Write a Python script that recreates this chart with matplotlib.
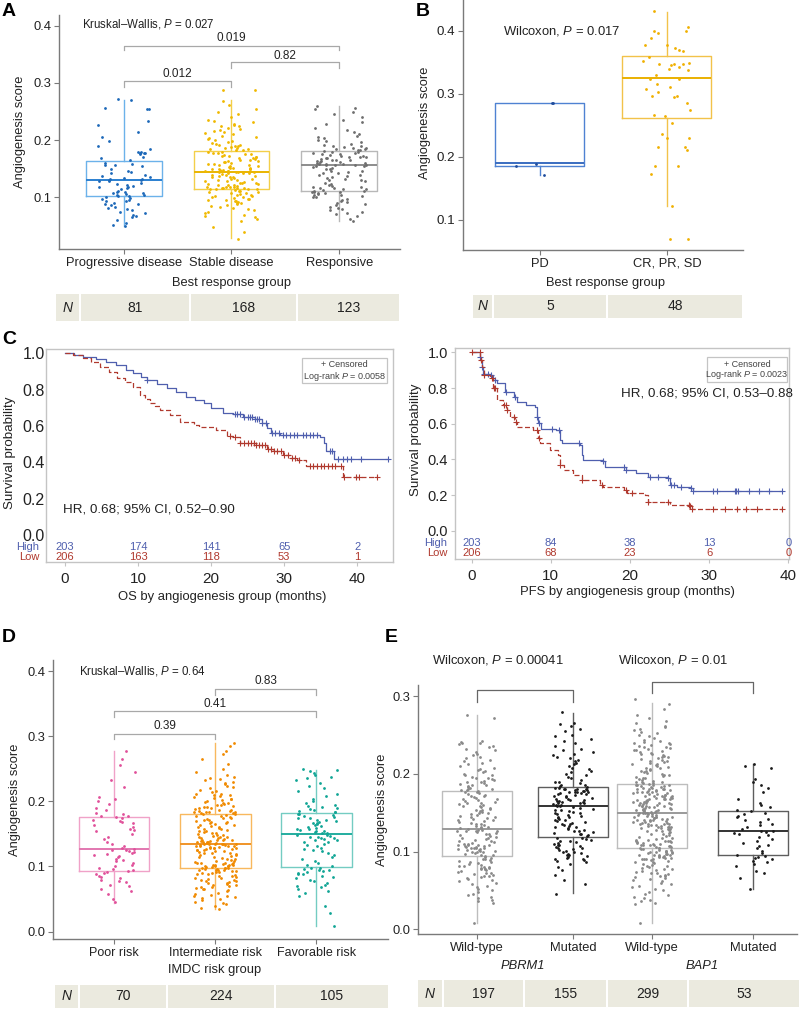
import numpy as np
import matplotlib
matplotlib.use('Agg')
import matplotlib.pyplot as plt
from matplotlib.patches import Rectangle

plt.rcParams['font.family'] = ['Liberation Sans', 'DejaVu Sans']
plt.rcParams['mathtext.fontset'] = 'custom'
plt.rcParams['mathtext.rm'] = 'Liberation Sans'
plt.rcParams['mathtext.it'] = 'Liberation Sans:italic'

# ====================== DATA ======================
# Panel A
a_groups = ['Progressive disease', 'Stable disease', 'Responsive']
a_n = ['81', '168', '123']
a_q1 = [0.103, 0.1145, 0.112]
a_med = [0.130, 0.145, 0.156]
a_q3 = [0.1634, 0.181, 0.181]
a_lo = [0.0494, 0.0285, 0.059]
a_hi = [0.270, 0.270, 0.260]
a_pd = [272, 271, 256, 255, 254, 234, 227, 215, 206, 198, 190, 185, 180, 179, 178, 178, 177, 176, 171, 168,
        166, 160, 158, 157, 156, 154, 150, 147, 145, 142, 140, 138, 135, 134, 133, 132, 131, 130, 129, 128,
        126, 124, 122, 120, 119, 118, 116, 114, 112, 110, 109, 108, 107, 106, 105, 104, 103, 102, 101, 99,
        97, 95, 94, 93, 91, 89, 88, 86, 83, 82, 80, 78, 75, 72, 70, 68, 65, 60, 55, 52, 50]
a_sd = [288, 287, 268, 262, 255, 250, 245, 240, 236, 233, 231, 229, 226, 225, 224, 222, 220, 218, 216, 214,
        212, 210, 208, 206, 204, 202, 200, 198, 197, 195, 194, 192, 191, 190, 189, 188, 187, 186, 185, 184,
        183, 182, 180, 179, 178, 177, 176, 175, 174, 173, 172, 171, 170, 169, 168, 167, 166, 165, 164, 163,
        162, 161, 160, 159, 158, 157, 156, 155, 154, 153, 152, 152, 151, 150, 150, 149, 149, 148, 148, 147,
        147, 146, 146, 145, 145, 144, 144, 143, 142, 142, 141, 140, 139, 138, 137, 136, 135, 135, 134, 133,
        132, 131, 130, 129, 128, 127, 126, 125, 125, 124, 123, 122, 121, 121, 120, 119, 119, 118, 118, 117,
        117, 116, 116, 115, 115, 115, 114, 113, 112, 111, 110, 109, 108, 107, 106, 105, 104, 103, 102, 101,
        100, 99, 98, 97, 96, 95, 94, 93, 92, 91, 90, 88, 87, 85, 83, 81, 80, 78, 75, 73,
        70, 68, 65, 62, 58, 48, 40, 28]
a_resp = [260, 257, 255, 250, 245, 240, 236, 232, 228, 222, 218, 214, 210, 208, 205, 203, 200, 198, 196, 194,
          192, 190, 189, 188, 187, 186, 185, 184, 183, 182, 181, 180, 179, 178, 177, 176, 175, 174, 173, 172,
          171, 170, 170, 169, 168, 167, 166, 165, 165, 164, 163, 162, 161, 160, 160, 159, 158, 158, 157, 157,
          156, 156, 155, 154, 153, 152, 150, 149, 147, 146, 145, 143, 142, 140, 139, 137, 135, 134, 133, 131,
          130, 128, 126, 124, 122, 120, 119, 118, 117, 116, 115, 114, 113, 112, 111, 110, 110, 109, 108, 107,
          106, 105, 104, 103, 101, 100, 98, 96, 94, 92, 90, 88, 86, 84, 82, 80, 78, 75, 73, 71,
          68, 63, 59]

# Panel B
b_groups = ['PD', 'CR, PR, SD']
b_n = ['5', '48']
b_q1 = [0.185, 0.262]
b_med = [0.190, 0.3254]
b_q3 = [0.285, 0.360]
b_lo = [0.171, 0.121]
b_hi = [0.285, 0.430]
b_pd = [0.171, 0.286, 0.286, 0.189, 0.185]
b_cr = [0.431, 0.397, 0.400, 0.400, 0.406, 0.388, 0.377, 0.377, 0.369, 0.372, 0.367, 0.359, 0.352, 0.348,
        0.347, 0.345, 0.347, 0.347, 0.342, 0.337, 0.339, 0.330, 0.324, 0.324, 0.316, 0.310, 0.307, 0.303,
        0.297, 0.296, 0.294, 0.286, 0.274, 0.264, 0.266, 0.253, 0.236, 0.230, 0.230, 0.215, 0.216, 0.211,
        0.185, 0.186, 0.173, 0.121, 0.070, 0.070]

# Panel C - OS
os_high_t = [0, 1.2, 2.5, 4.3, 5.6, 7.0, 8.4, 9.3, 10.4, 11.2, 12.6, 13.9, 15.2, 16.6, 17.8, 19.0, 20.0,
             21.6, 23.0, 24.3, 26.0, 26.9, 27.6, 28.2, 29.4, 34.9, 35.4, 35.7, 36.8]
os_high_s = [1.0, 0.99, 0.98, 0.97, 0.955, 0.935, 0.91, 0.89, 0.87, 0.853, 0.83, 0.807, 0.785, 0.761,
             0.745, 0.728, 0.697, 0.67, 0.664, 0.648, 0.637, 0.615, 0.587, 0.56, 0.55, 0.541, 0.505,
             0.464, 0.418]
os_high_end = 44.2
os_high_cens = [11.2, 23.2, 23.6, 24.0, 24.5, 25.0, 25.3, 25.6, 26.0, 26.3, 26.6, 27.0, 27.5, 28.3, 28.8,
                29.3, 29.8, 30.3, 30.8, 31.3, 31.8, 32.5, 33.0, 33.5, 34.0, 34.5, 36.2, 36.6, 37.3, 38.0,
                38.6, 39.2, 40.5, 44.2]
os_low_t = [0, 1.1, 2.5, 3.6, 4.8, 6.0, 7.1, 8.2, 9.3, 10.3, 11.0, 11.6, 12.3, 13.0, 14.4, 15.7, 17.6,
            18.4, 20.7, 22.1, 23.0, 23.9, 26.2, 27.6, 28.5, 29.8, 30.8, 31.7, 33.0, 38.0]
os_low_s = [1.0, 0.99, 0.972, 0.95, 0.927, 0.895, 0.862, 0.84, 0.817, 0.771, 0.75, 0.728, 0.71, 0.688,
            0.661, 0.624, 0.606, 0.596, 0.578, 0.545, 0.541, 0.508, 0.495, 0.472, 0.46, 0.44, 0.425,
            0.413, 0.38, 0.321]
os_low_end = 42.7
os_low_cens = [22.6, 23.3, 24.0, 24.5, 25.0, 25.4, 25.8, 26.2, 26.6, 27.0, 27.4, 27.8, 28.2, 28.6, 29.0,
               29.5, 30.0, 30.5, 31.0, 31.5, 32.0, 33.5, 34.0, 34.5, 35.0, 35.5, 36.0, 36.5, 37.0, 37.8,
               38.2, 39.8, 40.2, 42.7]
os_risk_t = [0, 10, 20, 30, 40]
os_risk_high = ['203', '174', '141', '65', '2']
os_risk_low = ['206', '163', '118', '53', '1']

# Panel C - PFS
pfs_high_t = [0, 1.05, 1.15, 1.3, 1.45, 2.3, 2.7, 3.2, 4.2, 5.3, 5.7, 6.9, 8.0, 8.2, 8.4, 8.8, 10.7, 11.2,
              11.4, 13.7, 13.9, 14.1, 16.6, 16.8, 19.5, 20.8, 22.3, 24.8, 25.1, 25.9, 27.6, 27.9]
pfs_high_s = [1.0, 0.976, 0.95, 0.92, 0.88, 0.873, 0.845, 0.826, 0.78, 0.75, 0.724, 0.705, 0.692, 0.64,
              0.603, 0.569, 0.565, 0.509, 0.49, 0.481, 0.425, 0.397, 0.394, 0.36, 0.341, 0.325, 0.304,
              0.295, 0.257, 0.248, 0.239, 0.226]
pfs_high_end = 39.2
pfs_high_cens = [1.1, 1.3, 1.6, 2.0, 2.5, 3.0, 4.3, 5.5, 8.2, 8.5, 10.2, 11.0, 13.5, 16.6, 19.2, 19.5,
                 22.5, 23.5, 24.8, 25.2, 25.6, 26.4, 27.7, 28.0, 30.5, 31.0, 33.2, 33.4, 33.6, 35.0,
                 36.3, 37.5, 39.2]
pfs_low_t = [0, 1.05, 1.3, 1.5, 2.3, 2.7, 3.2, 4.0, 4.4, 4.8, 5.5, 5.7, 7.8, 8.4, 8.6, 9.9, 10.9, 11.2,
             11.6, 12.8, 13.9, 16.2, 16.6, 19.2, 19.6, 21.9, 22.3, 25.1, 27.6, 27.8]
pfs_low_s = [1.0, 0.957, 0.92, 0.873, 0.854, 0.799, 0.733, 0.705, 0.677, 0.636, 0.612, 0.584, 0.565,
             0.519, 0.49, 0.453, 0.425, 0.369, 0.341, 0.313, 0.285, 0.257, 0.248, 0.229, 0.211, 0.201,
             0.164, 0.146, 0.142, 0.123]
pfs_low_end = 39.2
pfs_low_cens = [0.0, 1.0, 1.2, 1.5, 2.6, 2.8, 3.0, 4.1, 4.3, 4.5, 5.3, 5.6, 8.2, 8.5, 11.2, 13.9, 16.4,
                19.5, 20.2, 22.3, 24.8, 27.4, 27.6, 27.8, 30.5, 32.0, 33.5, 34.6, 36.0, 39.2]
pfs_risk_t = [0, 10, 20, 30, 40]
pfs_risk_high = ['203', '84', '38', '13', '0']
pfs_risk_low = ['206', '68', '23', '6', '0']

# Panel D
d_groups = ['Poor risk', 'Intermediate risk', 'Favorable risk']
d_n = ['70', '224', '105']
d_q1 = [0.0936, 0.0982, 0.0987]
d_med = [0.1263, 0.1345, 0.1499]
d_q3 = [0.1754, 0.1806, 0.1816]
d_lo = [0.0445, 0.0353, 0.0087]
d_hi = [0.278, 0.289, 0.248]
d_poor = [278, 265, 255, 245, 232, 222, 207, 204, 200, 196, 190, 186, 182, 180, 178, 177, 176,
          174, 172, 170, 168, 166, 163, 160, 158, 156, 154, 150, 146, 142, 138, 135, 132, 129, 127,
          126, 125, 124, 122, 120, 119, 118, 116, 114, 112, 110, 108, 105, 102, 100, 98, 96, 94,
          93, 92, 90, 88, 86, 84, 82, 80, 78, 76, 72, 70, 66, 62, 58, 50, 45]
d_inter = [289, 285, 277, 272, 265, 258, 250, 245, 240, 238, 236, 234, 232, 230, 228, 226, 224, 222, 220, 218,
           216, 214, 212, 211, 210, 209, 208, 206, 205, 204, 203, 202, 200, 199, 198, 197, 196, 195, 194, 193,
           192, 191, 190, 189, 188, 187, 186, 185, 185, 184, 184, 183, 183, 182, 182, 181,
           180, 179, 178, 177, 176, 175, 174, 173, 172, 171, 170, 169, 168, 167, 166, 165, 164, 163, 162, 161,
           160, 159, 158, 157, 156, 155, 154, 153, 152, 151, 150, 149, 148, 147, 146, 145, 145, 144, 143, 142,
           141, 141, 140, 140, 139, 139, 138, 138, 137, 137, 136, 136, 135, 135, 135, 135,
           134, 134, 133, 133, 132, 132, 131, 131, 130, 130, 129, 129, 128, 128, 127, 127, 126, 126, 125, 124,
           123, 122, 121, 120, 120, 119, 118, 117, 116, 115, 114, 113, 112, 111, 110, 109, 108, 107, 106, 106,
           105, 105, 104, 104, 103, 103, 102, 102, 101, 101, 100, 100, 99, 99, 98, 98,
           97, 97, 96, 96, 95, 95, 94, 94, 93, 93, 92, 91, 90, 90, 89, 88, 87, 86, 85, 84,
           83, 82, 81, 80, 79, 78, 77, 76, 75, 74, 73, 72, 71, 70, 69, 68, 67, 66, 65, 64,
           62, 60, 58, 56, 55, 54, 53, 52, 50, 48, 46, 44, 42, 40, 37, 35]
d_fav = [250, 248, 246, 244, 240, 238, 236, 232, 228, 224, 220, 216, 212, 208, 204, 200, 197, 195, 193, 191,
         189, 188, 186, 185, 184, 183, 181, 180, 179, 178, 176, 175, 174, 172, 171, 170, 168, 167, 166, 165,
         163, 162, 160, 159, 158, 157, 156, 155, 154, 153, 152, 151, 149, 148, 147, 146, 145, 144, 143, 142,
         141, 140, 138, 137, 135, 133, 131, 129, 127, 125, 123, 121, 118, 115, 112, 109, 106, 103, 100,
         98, 97, 96, 95, 94, 93, 92, 90, 89, 88, 86, 84, 82, 80, 78, 75, 72, 70, 68, 65, 62, 60, 55, 40,
         28, 8]

# Panel E
e_ticklabels = ['Wild-type', 'Mutated', 'Wild-type', 'Mutated']
e_genes = ['PBRM1', 'BAP1']
e_n = ['197', '155', '299', '53']
e_q1 = [0.0943, 0.1187, 0.105, 0.096]
e_med = [0.1294, 0.1586, 0.149, 0.126]
e_q3 = [0.178, 0.183, 0.1865, 0.1526]
e_lo = [0.0086, 0.0463, 0.0077, 0.0523]
e_hi = [0.2756, 0.278, 0.2915, 0.2126]
e_wt1 = [276, 272, 242, 241, 240, 239, 238, 236, 234, 232, 230, 228, 226, 224, 222, 220, 218, 216, 214, 212,
         210, 208, 206, 205, 204, 202, 200, 199, 198, 196, 195, 194, 193, 192, 191, 190, 189, 188, 187, 186,
         185, 184, 183, 182, 181, 180, 179, 179, 178,
         177, 176, 175, 174, 173, 172, 171, 170, 169, 168, 167, 166, 165, 164, 163, 162, 161, 160, 159, 158,
         157, 156, 155, 154, 153, 152, 151, 150, 149, 148, 147, 146, 145, 144, 143, 142, 141, 140, 139, 138,
         137, 136, 135, 134, 133, 132, 131, 130, 130,
         129, 128, 128, 127, 127, 126, 126, 125, 124, 123, 122, 121, 120, 119, 118, 117, 116, 115, 114, 113,
         112, 111, 110, 110, 109, 109, 108, 108, 107, 107, 106, 106, 105, 105, 104, 104, 103, 103, 102, 102,
         101, 101, 100, 100, 99, 98, 97, 96, 95,
         94, 93, 92, 91, 90, 89, 88, 87, 86, 85, 84, 83, 82, 81, 80, 80, 79, 79, 78, 78,
         77, 76, 75, 74, 73, 72, 71, 70, 69, 68, 67, 66, 65, 64, 62, 60, 58, 56, 54, 52,
         50, 48, 46, 44, 42, 40, 38, 36, 34, 8]
e_mut1 = [279, 265, 264, 262, 258, 255, 250, 248, 245, 242, 240, 236, 232, 230, 228, 226, 224, 222, 220, 218,
          216, 214, 212, 210, 208, 206, 204, 202, 200, 198, 196, 194, 192, 190, 189, 188, 186, 185, 184,
          183, 182, 182, 181, 181, 180, 180, 179, 179, 178, 178, 177, 177, 176, 176, 175, 175, 174, 174, 173,
          172, 171, 170, 169, 168, 167, 166, 166, 165, 165, 164, 164, 163, 162, 162, 161, 160, 160, 159,
          158, 157, 156, 155, 154, 153, 152, 151, 150, 149, 148, 147, 146, 145, 144, 143, 142, 141, 140, 139,
          138, 137, 136, 135, 134, 133, 132, 131, 130, 129, 128, 127, 126, 125, 124, 123, 122, 121, 120,
          118, 117, 116, 115, 114, 113, 112, 111, 110, 109, 108, 107, 106, 105, 104, 103, 102, 101, 100, 99,
          98, 97, 96, 95, 94, 93, 92, 91, 90, 89, 88, 86, 84, 80, 76, 70, 63, 58, 46]
e_wt2 = [296, 290, 283, 275, 272, 268, 265, 262, 260, 258, 256, 254, 252, 250, 248, 246, 244, 242, 241, 240,
         239, 238, 237, 236, 235, 234, 233, 232, 231, 230, 229, 228, 227, 226, 225, 224, 223, 222, 221, 220,
         219, 218, 217, 216, 215, 214, 213, 212, 211, 210, 209, 208, 207, 206, 205, 204, 203, 202, 201, 200,
         199, 198, 197, 196, 195, 194, 193, 192, 191, 190, 189, 189, 188, 188, 187,
         186, 186, 185, 185, 184, 184, 183, 183, 182, 182, 181, 181, 180, 180, 179, 179, 178, 178, 177, 177,
         176, 176, 175, 175, 174, 174, 173, 173, 172, 172, 171, 171, 170, 170, 169, 169, 168, 168, 167, 167,
         166, 166, 165, 165, 164, 164, 163, 163, 162, 162, 161, 161, 160, 160, 159, 159, 158, 158, 157, 157,
         156, 156, 155, 155, 154, 154, 153, 153, 152, 152, 151, 151, 150, 150, 149,
         149, 148, 148, 147, 147, 146, 146, 145, 145, 144, 144, 143, 143, 142, 142, 141, 141, 140, 140, 139,
         139, 138, 138, 137, 137, 136, 136, 135, 135, 134, 134, 133, 133, 132, 132, 131, 131, 130, 130, 129,
         129, 128, 128, 127, 126, 125, 124, 123, 122, 121, 120, 119, 118, 117, 116, 115, 115, 114, 114, 113,
         113, 112, 112, 111, 111, 110, 110, 109, 109, 108, 108, 107, 107, 106, 106,
         105, 104, 104, 103, 103, 102, 102, 101, 101, 100, 100, 99, 99, 98, 98, 97, 97, 96, 96, 95,
         95, 94, 94, 93, 93, 92, 92, 91, 91, 90, 90, 89, 88, 87, 86, 85, 84, 83, 82, 81,
         80, 79, 78, 77, 76, 75, 74, 73, 72, 71, 70, 69, 68, 67, 66, 65, 64, 62, 60, 58,
         56, 54, 52, 50, 48, 46, 44, 42, 40, 38, 36, 34, 32, 8]
e_mut2 = [213, 210, 207, 193, 190, 185, 182, 176, 167, 162, 160, 157, 154,
          152, 150, 148, 146, 144, 142, 140, 138, 136, 134, 131, 129, 127,
          126, 125, 124, 123, 121, 119, 116, 114, 111, 109, 107, 104, 101, 98,
          95, 94, 93, 92, 90, 88, 86, 84, 82, 75, 72, 66, 52]

# ====================== LAYOUT / HELPERS ======================
W, H = 800, 1009
fig = plt.figure(figsize=(W / 100, H / 100), dpi=100)
TXT = '#222222'
SPINE = '#7a7a7a'
BEIGE = '#ebeadf'


def axpx(l, t, r, b):
    return fig.add_axes([l / W, 1 - b / H, (r - l) / W, (b - t) / H])


def ftxt(x, y, s, **kw):
    kw.setdefault('color', TXT)
    fig.text(x / W, 1 - y / H, s, **kw)


def jitter(n, w, phase=0.0):
    # deterministic scrambled horizontal offsets (positions only)
    i = np.arange(n) + 1.0
    h = np.sin(i * 12.9898 + phase * 78.233) * 43758.5453
    return ((h % 1.0) - 0.5) * 2 * w


def style_box_axes(ax, xlim, ylim, yticks, xpos, xlabels, xfs=9.3, yfs=9.3):
    ax.set_xlim(xlim)
    ax.set_ylim(ylim)
    for sp in ['top', 'right']:
        ax.spines[sp].set_visible(False)
    for sp in ['left', 'bottom']:
        ax.spines[sp].set_color(SPINE)
        ax.spines[sp].set_linewidth(1.0)
    ax.set_yticks(yticks)
    ax.set_yticklabels(['%.1f' % v for v in yticks], fontsize=yfs)
    ax.set_xticks(xpos)
    ax.set_xticklabels(xlabels, fontsize=xfs)
    ax.tick_params(length=3.5, width=0.8, color=SPINE, labelcolor=TXT, pad=2)
    ax.patch.set_alpha(0)


def draw_group(ax, pos, q1, med, q3, lo, hi, vals, boxc, medc, ptc, jw, width=0.7, phase=0.0):
    st = [dict(q1=q1, med=med, q3=q3, whislo=lo, whishi=hi, fliers=[])]
    ax.bxp(st, positions=[pos], widths=width, showfliers=False, showcaps=False,
           boxprops=dict(color=boxc, lw=1.0), whiskerprops=dict(color=boxc, lw=1.0),
           medianprops=dict(color=medc, lw=1.4), manage_ticks=False)
    v = np.asarray(vals, dtype=float)
    ax.scatter(pos + jitter(len(v), jw, phase), v, s=4, color=ptc, lw=0, zorder=3)


def bracket(ax, x1, x2, y, ydrop, color='#a8a8a8', lw=0.9):
    ax.plot([x1, x1, x2, x2], [ydrop, y, y, ydrop], color=color, lw=lw, clip_on=False)


def table(y0, y1, cells, labels, fs=10):
    for (x0, x1), lab in zip(cells, labels):
        fig.add_artist(Rectangle(((x0 + 1) / W, 1 - y1 / H), (x1 - x0 - 2) / W, (y1 - y0) / H,
                                 transform=fig.transFigure, fc=BEIGE, ec='none'))
        style = 'italic' if lab == 'N' else 'normal'
        ftxt((x0 + x1) / 2, (y0 + y1) / 2, lab, ha='center', va='center', fontsize=fs, style=style)


# ====================== PANEL A ======================
axA = axpx(59, 15, 400, 249)
style_box_axes(axA, (0.398, 3.565), (0.0099, 0.4186), [0.1, 0.2, 0.3, 0.4], [1, 2, 3], a_groups)
a_cols = [('#6cb2ea', '#2a7fd0', '#1c68b8'), ('#f3cf4a', '#e9b400', '#f0b800'), ('#b8b8b8', '#8c8c8c', '#6e6e6e')]
for i, vals in enumerate([a_pd, a_sd, a_resp]):
    bc, mc, pc = a_cols[i]
    draw_group(axA, i + 1, a_q1[i], a_med[i], a_q3[i], a_lo[i], a_hi[i], np.array(vals) / 1000.0,
               bc, mc, pc, 0.25, phase=0.13 * (i + 1))
bracket(axA, 1, 2, 0.304, 0.292)
bracket(axA, 2, 3, 0.336, 0.326)
bracket(axA, 1, 3, 0.365, 0.357)
axA.text(1.5, 0.316, '0.012', ha='center', va='center', fontsize=8.5, color=TXT)
axA.text(2.5, 0.347, '0.82', ha='center', va='center', fontsize=8.5, color=TXT)
axA.text(2.0, 0.378, '0.019', ha='center', va='center', fontsize=8.5, color=TXT)
ftxt(82, 24, r'Kruskal–Wallis, $\it{P}$ = 0.027', ha='left', va='center', fontsize=8.3)
ftxt(232, 283, 'Best response group', ha='center', va='center', fontsize=9.3)
ftxt(20, 132, 'Angiogenesis score', ha='center', va='center', rotation=90, fontsize=9.3)
table(294, 321, [(55, 80), (80, 190), (190, 297), (297, 400)], ['N'] + a_n)
ftxt(9, 11, 'A', ha='center', va='center', fontsize=14, weight='bold', color='black')

# ====================== PANEL B ======================
axB = axpx(463, 0, 743, 250)
style_box_axes(axB, (0.394, 2.6), (0.0519, 0.4487), [0.1, 0.2, 0.3, 0.4], [1, 2], b_groups, yfs=9.6)
draw_group(axB, 1, b_q1[0], b_med[0], b_q3[0], b_lo[0], b_hi[0], b_pd, '#4f82d2', '#3a6cc0', '#1f4c9c', 0.19, phase=0.7)
draw_group(axB, 2, b_q1[1], b_med[1], b_q3[1], b_lo[1], b_hi[1], b_cr, '#f2c24a', '#eab000', '#f0b000', 0.19, phase=0.3)
ftxt(503, 31, r'Wilcoxon, $\it{P}$ = 0.017', ha='left', va='center', fontsize=9.4)
ftxt(605, 283, 'Best response group', ha='center', va='center', fontsize=9.3)
ftxt(425, 123, 'Angiogenesis score', ha='center', va='center', rotation=90, fontsize=9.3)
table(295, 318, [(472, 493), (493, 607), (607, 743)], ['N'] + b_n)
ftxt(423, 12, 'B', ha='center', va='center', fontsize=14, weight='bold', color='black')

# ====================== PANEL C ======================
BLUE = '#4f5fae'
RED = '#b0392e'


def km_axes(ax, xlim, ylim, yfs, ypad, ylen):
    ax.set_xlim(xlim)
    ax.set_ylim(ylim)
    for sp in ax.spines.values():
        sp.set_color('#c4c4c4')
        sp.set_linewidth(1.0)
    ax.set_xticks([0, 10, 20, 30, 40])
    ax.set_yticks([0, 0.2, 0.4, 0.6, 0.8, 1.0])
    ax.set_yticklabels(['0.0', '0.2', '0.4', '0.6', '0.8', '1.0'])
    ax.tick_params(axis='x', length=3, color='#c4c4c4', labelsize=11, labelcolor=TXT, pad=4)
    ax.tick_params(axis='y', length=ylen, color='#c4c4c4', labelsize=yfs, labelcolor=TXT, pad=ypad)


def km_curve(ax, t, s, tend, cens, color, ls):
    tt = list(t) + [tend]
    ss = list(s) + [s[-1]]
    line, = ax.plot(tt, ss, drawstyle='steps-post', color=color, lw=0.9)
    if ls == 'dashed':
        line.set_dashes([4, 2])
    idx = np.searchsorted(np.asarray(t), np.asarray(cens), side='right') - 1
    ax.plot(cens, np.asarray(s)[idx], ls='none', marker='+', ms=4.5, mew=0.8, color=color)


def risk_rows(ax, rt, hi, lo, yh, yl, xlab):
    for x, a, b in zip(rt, hi, lo):
        ax.text(x, yh, a, ha='center', va='center', fontsize=8, color=BLUE)
        ax.text(x, yl, b, ha='center', va='center', fontsize=8, color=RED)
    ax.text(xlab, yh, 'High', ha='right', va='center', fontsize=8, color=BLUE, clip_on=False)
    ax.text(xlab, yl, 'Low', ha='right', va='center', fontsize=8, color=RED, clip_on=False)


def km_legend(ax, x0, x1, y0, y1, ptxt):
    ax.add_patch(Rectangle((x0, y0), x1 - x0, y1 - y0, transform=ax.transAxes, fc='white',
                           ec='#c4c4c4', lw=0.9, zorder=4))
    xm = (x0 + x1) / 2
    ax.text(xm, y0 + (y1 - y0) * 0.72, '+ Censored', transform=ax.transAxes, ha='center', va='center',
            fontsize=6.5, color='#444444', zorder=5)
    ax.text(xm, y0 + (y1 - y0) * 0.28, r'Log-rank $\it{P}$ = ' + ptxt, transform=ax.transAxes, ha='center',
            va='center', fontsize=6.5, color='#444444', zorder=5)


axC1 = axpx(46, 349, 393, 562)
km_axes(axC1, (-2.6, 44.88), (-0.149, 1.024), 11.5, 1, 0)
km_curve(axC1, os_high_t, os_high_s, os_high_end, os_high_cens, BLUE, 'solid')
km_curve(axC1, os_low_t, os_low_s, os_low_end, os_low_cens, RED, 'dashed')
risk_rows(axC1, os_risk_t, os_risk_high, os_risk_low, -0.068, -0.119, -3.5)
km_legend(axC1, 0.738, 0.983, 0.84, 0.958, '0.0058')
axC1.text(-0.3, 0.138, 'HR, 0.68; 95% CI, 0.52–0.90', ha='left', va='center', fontsize=9.6, color=TXT)
ftxt(222, 597, 'OS by angiogenesis group (months)', ha='center', va='center', fontsize=9.4)
ftxt(10, 453, 'Survival probability', ha='center', va='center', rotation=90, fontsize=9.6)
ftxt(9, 340, 'C', ha='center', va='center', fontsize=14, weight='bold', color='black')

axC2 = axpx(455, 348, 789, 559)
km_axes(axC2, (-2.11, 40.08), (-0.157, 1.024), 10.5, 2, 3)
km_curve(axC2, pfs_high_t, pfs_high_s, pfs_high_end, pfs_high_cens, BLUE, 'solid')
km_curve(axC2, pfs_low_t, pfs_low_s, pfs_low_end, pfs_low_cens, RED, 'dashed')
risk_rows(axC2, pfs_risk_t, pfs_risk_high, pfs_risk_low, -0.069, -0.121, -3.1)
km_legend(axC2, 0.754, 0.994, 0.839, 0.957, '0.0023')
axC2.text(40.6, 0.767, 'HR, 0.68; 95% CI, 0.53–0.88', ha='right', va='center', fontsize=9.6,
          color=TXT, clip_on=False)
ftxt(627, 592, 'PFS by angiogenesis group (months)', ha='center', va='center', fontsize=9.4)
ftxt(416, 440, 'Survival probability', ha='center', va='center', rotation=90, fontsize=9.6)

# ====================== PANEL D ======================
axD = axpx(53, 660, 388, 939)
style_box_axes(axD, (0.396, 3.71), (-0.0113, 0.4169), [0.0, 0.1, 0.2, 0.3, 0.4], [1, 2, 3], d_groups, xfs=9.0)
d_cols = [('#f0a2c8', '#e277b0', '#e0509a'), ('#f8b85e', '#f09428', '#f08a00'), ('#74ccc2', '#22ad9f', '#10a595')]
for i, vals in enumerate([d_poor, d_inter, d_fav]):
    bc, mc, pc = d_cols[i]
    draw_group(axD, i + 1, d_q1[i], d_med[i], d_q3[i], d_lo[i], d_hi[i], np.array(vals) / 1000.0,
               bc, mc, pc, 0.21, phase=0.21 * (i + 2))
bracket(axD, 1, 2, 0.303, 0.295)
bracket(axD, 1, 3, 0.338, 0.329)
bracket(axD, 2, 3, 0.372, 0.363)
axD.text(1.5, 0.3156, '0.39', ha='center', va='center', fontsize=8.5, color=TXT)
axD.text(2.0, 0.350, '0.41', ha='center', va='center', fontsize=8.5, color=TXT)
axD.text(2.5, 0.384, '0.83', ha='center', va='center', fontsize=8.5, color=TXT)
ftxt(79, 671, r'Kruskal–Wallis, $\it{P}$ = 0.64', ha='left', va='center', fontsize=8.3)
ftxt(215, 970, 'IMDC risk group', ha='center', va='center', fontsize=9.3)
ftxt(15, 800, 'Angiogenesis score', ha='center', va='center', rotation=90, fontsize=9.3)
table(985, 1008, [(54, 79), (79, 167), (167, 275), (275, 389)], ['N'] + d_n)
ftxt(9, 637, 'D', ha='center', va='center', fontsize=14, weight='bold', color='black')

# ====================== PANEL E ======================
e_pos = [1.0, 1.96, 2.75, 3.76]
axE = axpx(418, 685, 797, 934)
style_box_axes(axE, (0.41, 4.2), (-0.006, 0.3142), [0.0, 0.1, 0.2, 0.3], e_pos, e_ticklabels)
e_cols = [('#bdbdbd', '#9a9a9a', '#8a8a8a'), ('#5e5e5e', '#333333', '#1a1a1a'),
          ('#bdbdbd', '#9a9a9a', '#8a8a8a'), ('#5e5e5e', '#333333', '#1a1a1a')]
for i, vals in enumerate([e_wt1, e_mut1, e_wt2, e_mut2]):
    bc, mc, pc = e_cols[i]
    draw_group(axE, e_pos[i], e_q1[i], e_med[i], e_q3[i], e_lo[i], e_hi[i], np.array(vals) / 1000.0,
               bc, mc, pc, 0.2, phase=0.17 * (i + 5))
bracket(axE, e_pos[0], e_pos[1], 0.3078, 0.2928, color='#666666')
bracket(axE, e_pos[2], e_pos[3], 0.3185, 0.3035, color='#666666')
ftxt(432, 660, r'Wilcoxon, $\it{P}$ = 0.00041', ha='left', va='center', fontsize=9.4)
ftxt(618, 660, r'Wilcoxon, $\it{P}$ = 0.01', ha='left', va='center', fontsize=9.4)
ftxt(523, 966, e_genes[0], ha='center', va='center', fontsize=9.3, style='italic')
ftxt(702, 966, e_genes[1], ha='center', va='center', fontsize=9.3, style='italic')
ftxt(382, 810, 'Angiogenesis score', ha='center', va='center', rotation=90, fontsize=9.3)
table(980, 1007, [(417, 443), (443, 524), (524, 607), (607, 688), (688, 800)], ['N'] + e_n)
ftxt(391, 637, 'E', ha='center', va='center', fontsize=14, weight='bold', color='black')

fig.savefig('out.png', dpi=100)
